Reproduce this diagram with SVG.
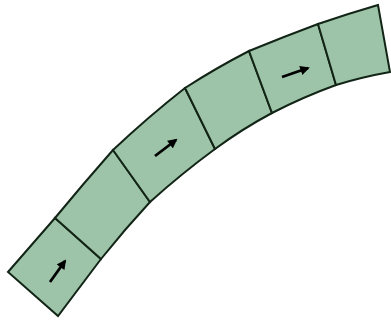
<svg xmlns="http://www.w3.org/2000/svg" width="391" height="320" viewBox="0 0 391 320">
<defs>
<style>
.seg{fill:#9dc4a9;stroke:#122416;stroke-width:2;stroke-linejoin:miter}
.arr{stroke:#000;stroke-width:2.8;fill:none;marker-end:url(#ah)}
</style>
<marker id="ah" viewBox="0 0 10 10" refX="8" refY="5" markerWidth="3.6" markerHeight="3.4" orient="auto" markerUnits="strokeWidth">
<path d="M0,0 L10,5 L0,10 Z" fill="#000"/>
</marker>
</defs>
<rect width="391" height="320" fill="#fff"/>
<g id="seg1"><path class="seg" d="M8,272 L55,218 L101,259 L58,316 Z"/></g>
<g id="seg2"><path class="seg" d="M55,218 Q83,184 113,150 L150,202 Q125,229 101,259 Z"/></g>
<g id="seg3"><path class="seg" d="M113,150 Q148,117 185,88 L215,149 Q181,174 150,202 Z"/></g>
<g id="seg4"><path class="seg" d="M185,88 Q216,68 249,51 L272,113 Q242,129 215,149 Z"/></g>
<g id="seg5"><path class="seg" d="M249,51 Q283,37 318,24 L336,85 Q303,97 272,113 Z"/></g>
<g id="seg6"><path class="seg" d="M318,24 Q347,14 378,5 L390,72 Q362,77 336,85 Z"/></g>
<g id="arrows">
<line class="arr" x1="50" y1="282" x2="65" y2="261"/>
<line class="arr" x1="155" y1="156" x2="176" y2="140"/>
<line class="arr" x1="282" y1="77" x2="308" y2="68"/>
</g>
</svg>
